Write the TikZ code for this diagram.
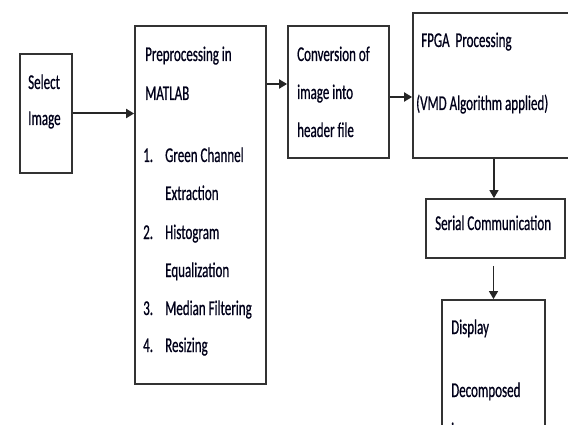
\documentclass[tikz,border=0pt]{standalone}
\usepackage{fontspec}
\setmainfont[FakeStretch=0.62,FakeBold=0.6]{Carlito}
\usetikzlibrary{arrows.meta}
\tikzset{
  box/.style={draw=black!80, line width=1.8pt, rectangle, inner sep=0pt},
  txt/.style={anchor=base west, inner sep=0pt, text=black!90!blue, font=\fontsize{21}{38}\selectfont},
  arr/.style={draw=black!85, line width=2pt, -{Triangle[length=8pt,width=9pt]}},
}
\begin{document}
\begin{tikzpicture}[x=1pt,y=-1pt]
    \useasboundingbox (0,0) rectangle (568,425);

    % boxes
    \node[box, minimum width=52pt, minimum height=119pt] (select) at (46,113.5) {};
    \node[box, minimum width=131pt, minimum height=358pt] (prep) at (200.5,205) {};
    \node[box, minimum width=101pt, minimum height=132pt] (conv) at (338.5,92) {};
    \node[box, minimum width=162pt, minimum height=145pt] (fpga) at (494,85.5) {};
    \node[box, minimum width=139pt, minimum height=59pt] (serial) at (495.5,228.5) {};
    \node[box, minimum width=103pt, minimum height=140pt] (disp) at (493.5,370) {};

    % texts
    \node[txt] (selA) at (28,89) {Select};
    \node[txt] (selB) at (28,125) {Image};

    \node[txt] (preA) at (145,61) {Preprocessing in};
    \node[txt] (preB) at (145,100) {MATLAB};
    \node[txt] (n1) at (143,162) {1.};
    \node[txt] (it1) at (165,162) {Green Channel};
    \node[txt] (it1b) at (165,200) {Extraction};
    \node[txt] (n2) at (143,239) {2.};
    \node[txt] (it2) at (165,239) {Histogram};
    \node[txt] (it2b) at (165,277) {Equalization};
    \node[txt] (n3) at (143,315) {3.};
    \node[txt] (it3) at (165,315) {Median Filtering};
    \node[txt] (n4) at (143,352) {4.};
    \node[txt] (it4) at (165,352) {Resizing};

    \node[txt] (convA) at (297,61) {Conversion of};
    \node[txt] (convB) at (297,99) {image into};
    \node[txt] (convC) at (297,137) {header file};

    \node[txt] (fpgaA) at (421,47) {FPGA\ \ Processing};
    \node[txt] (fpgaB) at (416,110) {(VMD Algorithm applied)};

    \node[txt] (serA) at (435,230) {Serial Communication};

    \node[txt] (dispA) at (451,334) {Display};
    \node[txt] (dispB) at (451,397) {Decomposed};
    \node[txt] (dispC) at (451,437) {images};

    % arrows
    \draw[arr] (select.east) -- (prep.west |- select.east);
    \draw[arr] ([yshift=8pt]conv.west -| prep.east) -- ([yshift=8pt]conv.west);
    \draw[arr] ([yshift=-5pt]conv.east) -- ([yshift=-5pt]conv.east -| fpga.west);
    \draw[arr, line width=1.4pt] (fpga.south) -- (fpga.south |- serial.north);
    \draw[arr, line width=1.4pt] ([yshift=-7pt]serial.south -| disp.north) -- (disp.north);
\end{tikzpicture}
\end{document}
